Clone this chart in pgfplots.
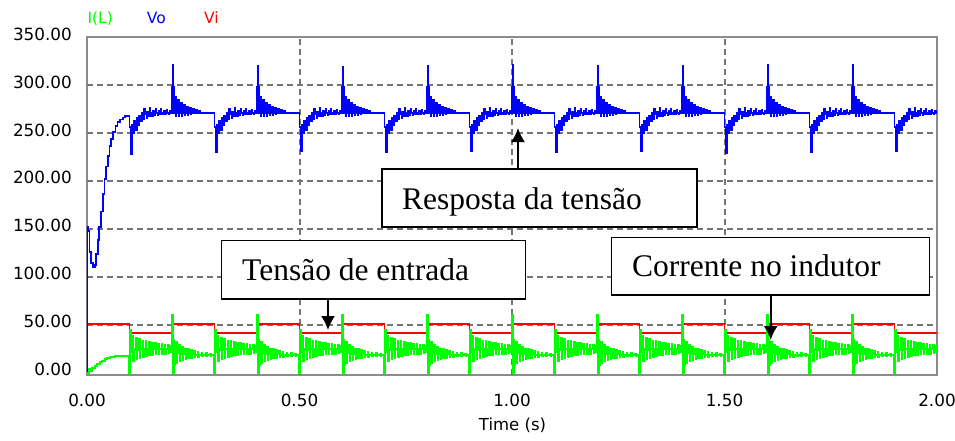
\documentclass[border=0pt]{standalone}
\usepackage{fontspec}
\setmainfont{DejaVu Sans}
\newfontfamily\boxfont{Liberation Serif}
\usepackage{pgfplots}
\pgfplotsset{compat=1.18}
\usetikzlibrary{arrows.meta}
\definecolor{gridgray}{RGB}{118,118,118}
\definecolor{framegray}{RGB}{140,140,140}
\definecolor{vgreen}{RGB}{0,255,0}
\definecolor{vblue}{RGB}{0,0,255}
\definecolor{vred}{RGB}{255,0,0}
\begin{document}
\begin{tikzpicture}
\begin{axis}[
  at={(0pt,0pt)}, anchor=south west,
  scale only axis, width=850pt, height=338pt,
  xmin=0, xmax=2, ymin=-2.5, ymax=350,
  xtick={0,0.5,1,1.5,2},
  ytick={0,50,100,150,200,250,300,350},
  extra x ticks={0.5,1,1.5}, extra x tick labels={,,},
  extra y ticks={50,100,150,200,250,300}, extra y tick labels={,,,,,},
  extra tick style={grid=major, major grid style={gridgray, line width=2pt, dash pattern=on 6pt off 4pt}},
  major tick length=0pt,
  axis line style={framegray, line width=1.5pt},
  /pgf/number format/.cd, fixed, fixed zerofill, precision=2, 1000 sep={}, assume math mode=true, /pgfplots/.cd,
  yticklabel style={anchor=east, inner sep=0pt, xshift=-15pt, yshift=3pt, font=\fontsize{16.8}{20}\selectfont},
  xticklabel style={anchor=north, inner sep=0pt, yshift=-19pt, font=\fontsize{16.8}{20}\selectfont},
  no markers,
]
% Vi (input voltage)
\addplot[const plot, vred, line width=1.8pt] coordinates {
(0,51)(0.1,41)(0.2,51)(0.3,41)(0.4,51)(0.5,41)(0.6,51)(0.7,41)(0.8,51)(0.9,41)
(1.0,51)(1.1,41)(1.2,51)(1.3,41)(1.4,51)(1.5,41)(1.6,51)(1.7,41)(1.8,51)(1.9,41)(2.0,41)
};
% Vo (output voltage)
\addplot[const plot, vblue, line width=1.8pt] coordinates {
(0,0)(0.0005,152)(0.003,148)(0.006,126)(0.010,114)(0.014,110)(0.018,112)(0.021,124)(0.025,138)(0.029,152)(0.033,168)(0.037,186)(0.041,202)(0.045,215)(0.049,226)(0.053,236)(0.057,244)(0.062,251)(0.067,257)(0.072,261)(0.078,264)(0.084,266)(0.090,268)(0.095,267)(0.098,268)
(0.100,256)(0.103,228)(0.106,258)(0.109,250)(0.111,263)(0.115,253)(0.117,266)(0.121,258)(0.123,268)(0.127,262)(0.129,271)(0.133,264)(0.135,275)(0.136,270)(0.140,265)(0.142,272)(0.146,267)(0.148,276)(0.149,271)(0.153,268)(0.155,273)(0.159,269)(0.161,275)(0.162,271)(0.166,269)(0.168,273)(0.172,270)(0.174,275)(0.175,271)(0.179,270)(0.181,273)(0.185,270)(0.187,274)(0.188,271)(0.192,270)(0.194,273)(0.197,271)
(0.200,298)(0.202,321)(0.203,298)(0.205,271)(0.207,288)(0.209,267)(0.210,271)(0.214,284)(0.216,268)(0.217,271)(0.221,281)(0.223,268)(0.224,271)(0.228,279)(0.230,269)(0.231,271)(0.235,277)(0.237,269)(0.238,271)(0.242,276)(0.244,270)(0.245,271)(0.249,275)(0.251,271)(0.256,274)(0.258,271)(0.263,273)(0.265,271)
(0.300,256)(0.303,230)(0.306,258)(0.309,250)(0.311,263)(0.315,253)(0.317,266)(0.321,258)(0.323,268)(0.327,262)(0.329,271)(0.333,264)(0.335,275)(0.336,270)(0.340,265)(0.342,272)(0.346,267)(0.348,276)(0.349,271)(0.353,268)(0.355,273)(0.359,269)(0.361,275)(0.362,271)(0.366,269)(0.368,273)(0.372,270)(0.374,275)(0.375,271)(0.379,270)(0.381,273)(0.385,270)(0.387,274)(0.388,271)(0.392,270)(0.394,273)(0.397,271)
(0.400,298)(0.402,320)(0.403,298)(0.405,271)(0.407,288)(0.409,267)(0.410,271)(0.414,284)(0.416,268)(0.417,271)(0.421,281)(0.423,268)(0.424,271)(0.428,279)(0.430,269)(0.431,271)(0.435,277)(0.437,269)(0.438,271)(0.442,276)(0.444,270)(0.445,271)(0.449,275)(0.451,271)(0.456,274)(0.458,271)(0.463,273)(0.465,271)
(0.500,256)(0.503,231)(0.506,258)(0.509,250)(0.511,263)(0.515,253)(0.517,266)(0.521,258)(0.523,268)(0.527,262)(0.529,271)(0.533,264)(0.535,275)(0.536,270)(0.540,265)(0.542,272)(0.546,267)(0.548,276)(0.549,271)(0.553,268)(0.555,273)(0.559,269)(0.561,275)(0.562,271)(0.566,269)(0.568,273)(0.572,270)(0.574,275)(0.575,271)(0.579,270)(0.581,273)(0.585,270)(0.587,274)(0.588,271)(0.592,270)(0.594,273)(0.597,271)
(0.600,298)(0.602,319)(0.603,298)(0.605,271)(0.607,288)(0.609,267)(0.610,271)(0.614,284)(0.616,268)(0.617,271)(0.621,281)(0.623,268)(0.624,271)(0.628,279)(0.630,269)(0.631,271)(0.635,277)(0.637,269)(0.638,271)(0.642,276)(0.644,270)(0.645,271)(0.649,275)(0.651,271)(0.656,274)(0.658,271)(0.663,273)(0.665,271)
(0.700,256)(0.703,230)(0.706,258)(0.709,250)(0.711,263)(0.715,253)(0.717,266)(0.721,258)(0.723,268)(0.727,262)(0.729,271)(0.733,264)(0.735,275)(0.736,270)(0.740,265)(0.742,272)(0.746,267)(0.748,276)(0.749,271)(0.753,268)(0.755,273)(0.759,269)(0.761,275)(0.762,271)(0.766,269)(0.768,273)(0.772,270)(0.774,275)(0.775,271)(0.779,270)(0.781,273)(0.785,270)(0.787,274)(0.788,271)(0.792,270)(0.794,273)(0.797,271)
(0.800,298)(0.802,320)(0.803,298)(0.805,271)(0.807,288)(0.809,267)(0.810,271)(0.814,284)(0.816,268)(0.817,271)(0.821,281)(0.823,268)(0.824,271)(0.828,279)(0.830,269)(0.831,271)(0.835,277)(0.837,269)(0.838,271)(0.842,276)(0.844,270)(0.845,271)(0.849,275)(0.851,271)(0.856,274)(0.858,271)(0.863,273)(0.865,271)
(0.900,256)(0.903,231)(0.906,258)(0.909,250)(0.911,263)(0.915,253)(0.917,266)(0.921,258)(0.923,268)(0.927,262)(0.929,271)(0.933,264)(0.935,275)(0.936,270)(0.940,265)(0.942,272)(0.946,267)(0.948,276)(0.949,271)(0.953,268)(0.955,273)(0.959,269)(0.961,275)(0.962,271)(0.966,269)(0.968,273)(0.972,270)(0.974,275)(0.975,271)(0.979,270)(0.981,273)(0.985,270)(0.987,274)(0.988,271)(0.992,270)(0.994,273)(0.997,271)
(1.000,298)(1.002,321)(1.003,298)(1.005,271)(1.007,288)(1.009,267)(1.010,271)(1.014,284)(1.016,268)(1.017,271)(1.021,281)(1.023,268)(1.024,271)(1.028,279)(1.030,269)(1.031,271)(1.035,277)(1.037,269)(1.038,271)(1.042,276)(1.044,270)(1.045,271)(1.049,275)(1.051,271)(1.056,274)(1.058,271)(1.063,273)(1.065,271)
(1.100,256)(1.103,230)(1.106,258)(1.109,250)(1.111,263)(1.115,253)(1.117,266)(1.121,258)(1.123,268)(1.127,262)(1.129,271)(1.133,264)(1.135,275)(1.136,270)(1.140,265)(1.142,272)(1.146,267)(1.148,276)(1.149,271)(1.153,268)(1.155,273)(1.159,269)(1.161,275)(1.162,271)(1.166,269)(1.168,273)(1.172,270)(1.174,275)(1.175,271)(1.179,270)(1.181,273)(1.185,270)(1.187,274)(1.188,271)(1.192,270)(1.194,273)(1.197,271)
(1.200,298)(1.202,320)(1.203,298)(1.205,271)(1.207,288)(1.209,267)(1.210,271)(1.214,284)(1.216,268)(1.217,271)(1.221,281)(1.223,268)(1.224,271)(1.228,279)(1.230,269)(1.231,271)(1.235,277)(1.237,269)(1.238,271)(1.242,276)(1.244,270)(1.245,271)(1.249,275)(1.251,271)(1.256,274)(1.258,271)(1.263,273)(1.265,271)
(1.300,256)(1.303,231)(1.306,258)(1.309,250)(1.311,263)(1.315,253)(1.317,266)(1.321,258)(1.323,268)(1.327,262)(1.329,271)(1.333,264)(1.335,275)(1.336,270)(1.340,265)(1.342,272)(1.346,267)(1.348,276)(1.349,271)(1.353,268)(1.355,273)(1.359,269)(1.361,275)(1.362,271)(1.366,269)(1.368,273)(1.372,270)(1.374,275)(1.375,271)(1.379,270)(1.381,273)(1.385,270)(1.387,274)(1.388,271)(1.392,270)(1.394,273)(1.397,271)
(1.400,298)(1.402,320)(1.403,298)(1.405,271)(1.407,288)(1.409,267)(1.410,271)(1.414,284)(1.416,268)(1.417,271)(1.421,281)(1.423,268)(1.424,271)(1.428,279)(1.430,269)(1.431,271)(1.435,277)(1.437,269)(1.438,271)(1.442,276)(1.444,270)(1.445,271)(1.449,275)(1.451,271)(1.456,274)(1.458,271)(1.463,273)(1.465,271)
(1.500,256)(1.503,229)(1.506,258)(1.509,250)(1.511,263)(1.515,253)(1.517,266)(1.521,258)(1.523,268)(1.527,262)(1.529,271)(1.533,264)(1.535,275)(1.536,270)(1.540,265)(1.542,272)(1.546,267)(1.548,276)(1.549,271)(1.553,268)(1.555,273)(1.559,269)(1.561,275)(1.562,271)(1.566,269)(1.568,273)(1.572,270)(1.574,275)(1.575,271)(1.579,270)(1.581,273)(1.585,270)(1.587,274)(1.588,271)(1.592,270)(1.594,273)(1.597,271)
(1.600,298)(1.602,321)(1.603,298)(1.605,271)(1.607,288)(1.609,267)(1.610,271)(1.614,284)(1.616,268)(1.617,271)(1.621,281)(1.623,268)(1.624,271)(1.628,279)(1.630,269)(1.631,271)(1.635,277)(1.637,269)(1.638,271)(1.642,276)(1.644,270)(1.645,271)(1.649,275)(1.651,271)(1.656,274)(1.658,271)(1.663,273)(1.665,271)
(1.700,256)(1.703,230)(1.706,258)(1.709,250)(1.711,263)(1.715,253)(1.717,266)(1.721,258)(1.723,268)(1.727,262)(1.729,271)(1.733,264)(1.735,275)(1.736,270)(1.740,265)(1.742,272)(1.746,267)(1.748,276)(1.749,271)(1.753,268)(1.755,273)(1.759,269)(1.761,275)(1.762,271)(1.766,269)(1.768,273)(1.772,270)(1.774,275)(1.775,271)(1.779,270)(1.781,273)(1.785,270)(1.787,274)(1.788,271)(1.792,270)(1.794,273)(1.797,271)
(1.800,298)(1.802,321)(1.803,298)(1.805,271)(1.807,288)(1.809,267)(1.810,271)(1.814,284)(1.816,268)(1.817,271)(1.821,281)(1.823,268)(1.824,271)(1.828,279)(1.830,269)(1.831,271)(1.835,277)(1.837,269)(1.838,271)(1.842,276)(1.844,270)(1.845,271)(1.849,275)(1.851,271)(1.856,274)(1.858,271)(1.863,273)(1.865,271)
(1.900,256)(1.903,231)(1.906,258)(1.909,250)(1.911,263)(1.915,253)(1.917,266)(1.921,258)(1.923,268)(1.927,262)(1.929,271)(1.933,264)(1.935,275)(1.936,270)(1.940,265)(1.942,272)(1.946,267)(1.948,276)(1.949,271)(1.953,268)(1.955,273)(1.959,269)(1.961,275)(1.962,271)(1.966,269)(1.968,273)(1.972,270)(1.974,275)(1.975,271)(1.979,270)(1.981,273)(1.985,270)(1.987,274)(1.988,271)(1.992,270)(1.994,273)(1.997,271)(2.000,271)
};
% I(L) (inductor current)
\addplot[const plot, vgreen, line width=2.2pt] coordinates {
(0,0)(0.003,0)(0.005,4)(0.008,2)(0.012,5)(0.018,7)(0.024,9)(0.030,11)(0.036,12)(0.042,14)(0.048,15)(0.055,16)(0.065,17)(0.080,17)(0.098,17)
(0.100,0)(0.102,44)(0.104,22)(0.108,38)(0.109,12)(0.110,24)(0.116,36)(0.117,14)(0.118,24)(0.123,35)(0.124,15)(0.125,25)(0.131,33)(0.132,16)(0.133,25)(0.138,33)(0.139,17)(0.140,25)(0.146,32)(0.147,18)(0.148,25)(0.153,31)(0.154,18)(0.155,25)(0.161,31)(0.162,19)(0.163,25)(0.168,30)(0.169,19)(0.170,25)(0.176,30)(0.177,20)(0.178,25)(0.183,29)(0.184,20)(0.185,25)(0.191,29)(0.192,21)(0.193,25)(0.197,28)(0.198,22)(0.199,25)
(0.200,60)(0.202,0)(0.204,34)(0.205,8)(0.206,22)(0.210,32)(0.211,10)(0.212,21)(0.217,29)(0.218,12)(0.219,20)(0.224,27)(0.225,13)(0.226,20)(0.231,25)(0.232,14)(0.233,19)(0.238,24)(0.239,15)(0.240,19)(0.245,23)(0.246,15)(0.247,19)(0.253,22)(0.254,16)(0.255,18)(0.261,21)(0.262,16)(0.263,18)(0.270,20)(0.271,17)(0.272,18)(0.280,20)(0.281,17)(0.282,18)(0.290,19)(0.291,17)(0.292,18)
(0.300,0)(0.302,44)(0.304,22)(0.308,38)(0.309,12)(0.310,24)(0.316,36)(0.317,14)(0.318,24)(0.323,35)(0.324,15)(0.325,25)(0.331,33)(0.332,16)(0.333,25)(0.338,33)(0.339,17)(0.340,25)(0.346,32)(0.347,18)(0.348,25)(0.353,31)(0.354,18)(0.355,25)(0.361,31)(0.362,19)(0.363,25)(0.368,30)(0.369,19)(0.370,25)(0.376,30)(0.377,20)(0.378,25)(0.383,29)(0.384,20)(0.385,25)(0.391,29)(0.392,21)(0.393,25)(0.397,28)(0.398,22)(0.399,25)
(0.400,60)(0.402,0)(0.404,34)(0.405,8)(0.406,22)(0.410,32)(0.411,10)(0.412,21)(0.417,29)(0.418,12)(0.419,20)(0.424,27)(0.425,13)(0.426,20)(0.431,25)(0.432,14)(0.433,19)(0.438,24)(0.439,15)(0.440,19)(0.445,23)(0.446,15)(0.447,19)(0.453,22)(0.454,16)(0.455,18)(0.461,21)(0.462,16)(0.463,18)(0.470,20)(0.471,17)(0.472,18)(0.480,20)(0.481,17)(0.482,18)(0.490,19)(0.491,17)(0.492,18)
(0.500,0)(0.502,44)(0.504,22)(0.508,38)(0.509,12)(0.510,24)(0.516,36)(0.517,14)(0.518,24)(0.523,35)(0.524,15)(0.525,25)(0.531,33)(0.532,16)(0.533,25)(0.538,33)(0.539,17)(0.540,25)(0.546,32)(0.547,18)(0.548,25)(0.553,31)(0.554,18)(0.555,25)(0.561,31)(0.562,19)(0.563,25)(0.568,30)(0.569,19)(0.570,25)(0.576,30)(0.577,20)(0.578,25)(0.583,29)(0.584,20)(0.585,25)(0.591,29)(0.592,21)(0.593,25)(0.597,28)(0.598,22)(0.599,25)
(0.600,60)(0.602,0)(0.604,34)(0.605,8)(0.606,22)(0.610,32)(0.611,10)(0.612,21)(0.617,29)(0.618,12)(0.619,20)(0.624,27)(0.625,13)(0.626,20)(0.631,25)(0.632,14)(0.633,19)(0.638,24)(0.639,15)(0.640,19)(0.645,23)(0.646,15)(0.647,19)(0.653,22)(0.654,16)(0.655,18)(0.661,21)(0.662,16)(0.663,18)(0.670,20)(0.671,17)(0.672,18)(0.680,20)(0.681,17)(0.682,18)(0.690,19)(0.691,17)(0.692,18)
(0.700,0)(0.702,44)(0.704,22)(0.708,38)(0.709,12)(0.710,24)(0.716,36)(0.717,14)(0.718,24)(0.723,35)(0.724,15)(0.725,25)(0.731,33)(0.732,16)(0.733,25)(0.738,33)(0.739,17)(0.740,25)(0.746,32)(0.747,18)(0.748,25)(0.753,31)(0.754,18)(0.755,25)(0.761,31)(0.762,19)(0.763,25)(0.768,30)(0.769,19)(0.770,25)(0.776,30)(0.777,20)(0.778,25)(0.783,29)(0.784,20)(0.785,25)(0.791,29)(0.792,21)(0.793,25)(0.797,28)(0.798,22)(0.799,25)
(0.800,60)(0.802,0)(0.804,34)(0.805,8)(0.806,22)(0.810,32)(0.811,10)(0.812,21)(0.817,29)(0.818,12)(0.819,20)(0.824,27)(0.825,13)(0.826,20)(0.831,25)(0.832,14)(0.833,19)(0.838,24)(0.839,15)(0.840,19)(0.845,23)(0.846,15)(0.847,19)(0.853,22)(0.854,16)(0.855,18)(0.861,21)(0.862,16)(0.863,18)(0.870,20)(0.871,17)(0.872,18)(0.880,20)(0.881,17)(0.882,18)(0.890,19)(0.891,17)(0.892,18)
(0.900,0)(0.902,44)(0.904,22)(0.908,38)(0.909,12)(0.910,24)(0.916,36)(0.917,14)(0.918,24)(0.923,35)(0.924,15)(0.925,25)(0.931,33)(0.932,16)(0.933,25)(0.938,33)(0.939,17)(0.940,25)(0.946,32)(0.947,18)(0.948,25)(0.953,31)(0.954,18)(0.955,25)(0.961,31)(0.962,19)(0.963,25)(0.968,30)(0.969,19)(0.970,25)(0.976,30)(0.977,20)(0.978,25)(0.983,29)(0.984,20)(0.985,25)(0.991,29)(0.992,21)(0.993,25)(0.997,28)(0.998,22)(0.999,25)
(1.000,60)(1.002,0)(1.004,34)(1.005,8)(1.006,22)(1.010,32)(1.011,10)(1.012,21)(1.017,29)(1.018,12)(1.019,20)(1.024,27)(1.025,13)(1.026,20)(1.031,25)(1.032,14)(1.033,19)(1.038,24)(1.039,15)(1.040,19)(1.045,23)(1.046,15)(1.047,19)(1.053,22)(1.054,16)(1.055,18)(1.061,21)(1.062,16)(1.063,18)(1.070,20)(1.071,17)(1.072,18)(1.080,20)(1.081,17)(1.082,18)(1.090,19)(1.091,17)(1.092,18)
(1.100,0)(1.102,44)(1.104,22)(1.108,38)(1.109,12)(1.110,24)(1.116,36)(1.117,14)(1.118,24)(1.123,35)(1.124,15)(1.125,25)(1.131,33)(1.132,16)(1.133,25)(1.138,33)(1.139,17)(1.140,25)(1.146,32)(1.147,18)(1.148,25)(1.153,31)(1.154,18)(1.155,25)(1.161,31)(1.162,19)(1.163,25)(1.168,30)(1.169,19)(1.170,25)(1.176,30)(1.177,20)(1.178,25)(1.183,29)(1.184,20)(1.185,25)(1.191,29)(1.192,21)(1.193,25)(1.197,28)(1.198,22)(1.199,25)
(1.200,60)(1.202,0)(1.204,34)(1.205,8)(1.206,22)(1.210,32)(1.211,10)(1.212,21)(1.217,29)(1.218,12)(1.219,20)(1.224,27)(1.225,13)(1.226,20)(1.231,25)(1.232,14)(1.233,19)(1.238,24)(1.239,15)(1.240,19)(1.245,23)(1.246,15)(1.247,19)(1.253,22)(1.254,16)(1.255,18)(1.261,21)(1.262,16)(1.263,18)(1.270,20)(1.271,17)(1.272,18)(1.280,20)(1.281,17)(1.282,18)(1.290,19)(1.291,17)(1.292,18)
(1.300,0)(1.302,44)(1.304,22)(1.308,38)(1.309,12)(1.310,24)(1.316,36)(1.317,14)(1.318,24)(1.323,35)(1.324,15)(1.325,25)(1.331,33)(1.332,16)(1.333,25)(1.338,33)(1.339,17)(1.340,25)(1.346,32)(1.347,18)(1.348,25)(1.353,31)(1.354,18)(1.355,25)(1.361,31)(1.362,19)(1.363,25)(1.368,30)(1.369,19)(1.370,25)(1.376,30)(1.377,20)(1.378,25)(1.383,29)(1.384,20)(1.385,25)(1.391,29)(1.392,21)(1.393,25)(1.397,28)(1.398,22)(1.399,25)
(1.400,60)(1.402,0)(1.404,34)(1.405,8)(1.406,22)(1.410,32)(1.411,10)(1.412,21)(1.417,29)(1.418,12)(1.419,20)(1.424,27)(1.425,13)(1.426,20)(1.431,25)(1.432,14)(1.433,19)(1.438,24)(1.439,15)(1.440,19)(1.445,23)(1.446,15)(1.447,19)(1.453,22)(1.454,16)(1.455,18)(1.461,21)(1.462,16)(1.463,18)(1.470,20)(1.471,17)(1.472,18)(1.480,20)(1.481,17)(1.482,18)(1.490,19)(1.491,17)(1.492,18)
(1.500,0)(1.502,44)(1.504,22)(1.508,38)(1.509,12)(1.510,24)(1.516,36)(1.517,14)(1.518,24)(1.523,35)(1.524,15)(1.525,25)(1.531,33)(1.532,16)(1.533,25)(1.538,33)(1.539,17)(1.540,25)(1.546,32)(1.547,18)(1.548,25)(1.553,31)(1.554,18)(1.555,25)(1.561,31)(1.562,19)(1.563,25)(1.568,30)(1.569,19)(1.570,25)(1.576,30)(1.577,20)(1.578,25)(1.583,29)(1.584,20)(1.585,25)(1.591,29)(1.592,21)(1.593,25)(1.597,28)(1.598,22)(1.599,25)
(1.600,60)(1.602,0)(1.604,34)(1.605,8)(1.606,22)(1.610,32)(1.611,10)(1.612,21)(1.617,29)(1.618,12)(1.619,20)(1.624,27)(1.625,13)(1.626,20)(1.631,25)(1.632,14)(1.633,19)(1.638,24)(1.639,15)(1.640,19)(1.645,23)(1.646,15)(1.647,19)(1.653,22)(1.654,16)(1.655,18)(1.661,21)(1.662,16)(1.663,18)(1.670,20)(1.671,17)(1.672,18)(1.680,20)(1.681,17)(1.682,18)(1.690,19)(1.691,17)(1.692,18)
(1.700,0)(1.702,44)(1.704,22)(1.708,38)(1.709,12)(1.710,24)(1.716,36)(1.717,14)(1.718,24)(1.723,35)(1.724,15)(1.725,25)(1.731,33)(1.732,16)(1.733,25)(1.738,33)(1.739,17)(1.740,25)(1.746,32)(1.747,18)(1.748,25)(1.753,31)(1.754,18)(1.755,25)(1.761,31)(1.762,19)(1.763,25)(1.768,30)(1.769,19)(1.770,25)(1.776,30)(1.777,20)(1.778,25)(1.783,29)(1.784,20)(1.785,25)(1.791,29)(1.792,21)(1.793,25)(1.797,28)(1.798,22)(1.799,25)
(1.800,60)(1.802,0)(1.804,34)(1.805,8)(1.806,22)(1.810,32)(1.811,10)(1.812,21)(1.817,29)(1.818,12)(1.819,20)(1.824,27)(1.825,13)(1.826,20)(1.831,25)(1.832,14)(1.833,19)(1.838,24)(1.839,15)(1.840,19)(1.845,23)(1.846,15)(1.847,19)(1.853,22)(1.854,16)(1.855,18)(1.861,21)(1.862,16)(1.863,18)(1.870,20)(1.871,17)(1.872,18)(1.880,20)(1.881,17)(1.882,18)(1.890,19)(1.891,17)(1.892,18)
(1.900,0)(1.902,44)(1.904,22)(1.908,38)(1.909,12)(1.910,24)(1.916,36)(1.917,14)(1.918,24)(1.923,35)(1.924,15)(1.925,25)(1.931,33)(1.932,16)(1.933,25)(1.938,33)(1.939,17)(1.940,25)(1.946,32)(1.947,18)(1.948,25)(1.953,31)(1.954,18)(1.955,25)(1.961,31)(1.962,19)(1.963,25)(1.968,30)(1.969,19)(1.970,25)(1.976,30)(1.977,20)(1.978,25)(1.983,29)(1.984,20)(1.985,25)(1.991,29)(1.992,21)(1.993,25)(1.997,28)(1.998,22)(2.000,25)
};
\end{axis}
% series names at top
\node[anchor=base west, inner sep=0pt, text=vgreen, font=\fontsize{15.5}{18}\selectfont] at (0.3pt,351.7pt) {I(L)};
\node[anchor=base west, inner sep=0pt, text=vblue, font=\fontsize{15.5}{18}\selectfont] at (59.7pt,351.7pt) {Vo};
\node[anchor=base west, inner sep=0pt, text=vred, font=\fontsize{15.5}{18}\selectfont] at (117pt,351.7pt) {Vi};
% x label
\node[anchor=north, inner sep=0pt, font=\fontsize{16.5}{20}\selectfont] at (425.5pt,-43pt) {Time (s)};
% annotation boxes
\draw[black, line width=1.3pt, fill=white] (295pt,148pt) rectangle (610pt,206pt);
\node[anchor=base west, inner sep=0pt, font=\boxfont\fontsize{31.5}{36}\selectfont] at (315pt,166pt) {Resposta da tensão};
\draw[black, line width=1.8pt, -{Latex[length=14pt,width=14pt]}] (431pt,206pt) -- (431pt,247pt);
\draw[black, line width=1.3pt, fill=white] (134.7pt,76pt) rectangle (438.7pt,134.3pt);
\node[anchor=base west, inner sep=0pt, font=\boxfont\fontsize{31.5}{36}\selectfont] at (155pt,95pt) {Tensão de entrada};
\draw[black, line width=1.8pt, -{Latex[length=14pt,width=14pt]}] (241pt,76pt) -- (241pt,45pt);
\draw[black, line width=1.3pt, fill=white] (524.7pt,80pt) rectangle (842.3pt,137.7pt);
\node[anchor=base west, inner sep=0pt, font=\boxfont\fontsize{31.5}{36}\selectfont] at (545pt,98.3pt) {Corrente no indutor};
\draw[black, line width=1.8pt, -{Latex[length=14pt,width=14pt]}] (683.7pt,80pt) -- (683.7pt,35pt);
\pgfresetboundingbox
\path[use as bounding box] (-87pt,-65pt) rectangle (868pt,375pt);
\end{tikzpicture}
\end{document}
